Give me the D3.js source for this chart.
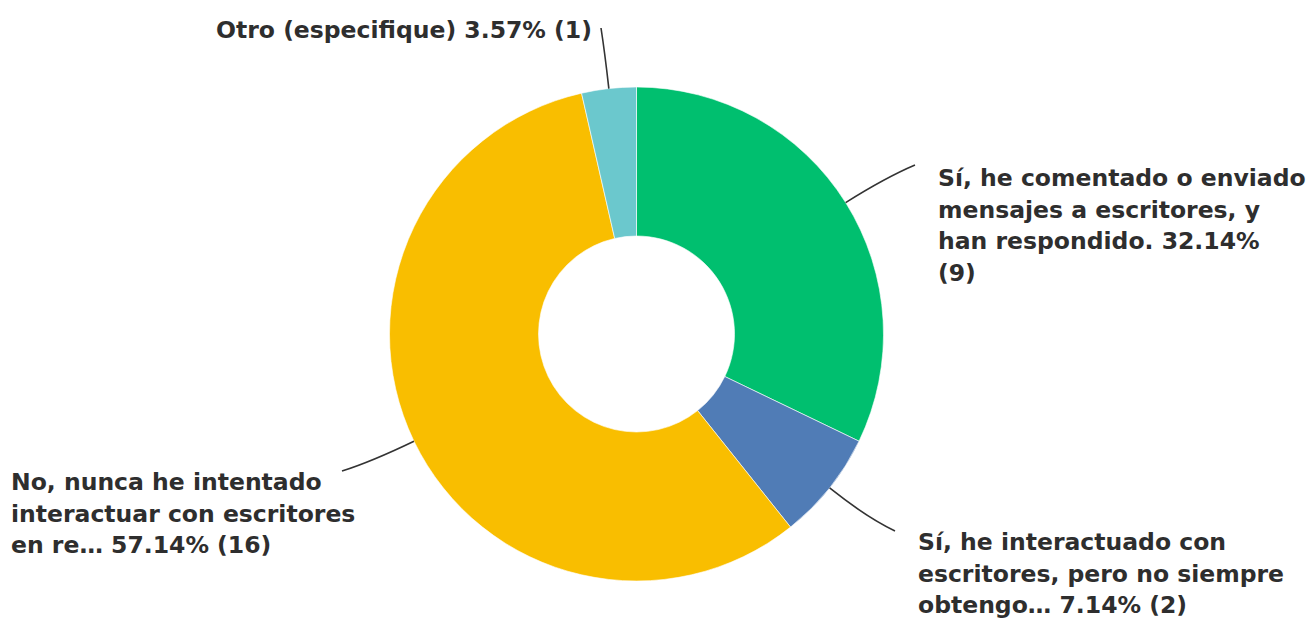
<!DOCTYPE html>
<html>
<head>
<meta charset="utf-8">
<script src="https://cdn.jsdelivr.net/npm/d3@7"></script>
<style>
  html, body { margin: 0; padding: 0; background: #ffffff; }
  svg { display: block; }
  text { font-family: "DejaVu Sans", sans-serif; font-weight: bold; fill: #2e2e2e; }
</style>
</head>
<body>
<svg id="chart" width="1315" height="628"></svg>
<script>
// ---- data ----
const categories = [
  "Sí, he comentado o enviado mensajes a escritores, y han respondido.",
  "Sí, he interactuado con escritores, pero no siempre obtengo…",
  "No, nunca he intentado interactuar con escritores en re…",
  "Otro (especifique)"
];
const percents = [32.14, 7.14, 57.14, 3.57];
const counts = [9, 2, 16, 1];
const labelLines = [
  ["Sí, he comentado o enviado", "mensajes a escritores, y", "han respondido. 32.14%", "(9)"],
  ["Sí, he interactuado con", "escritores, pero no siempre", "obtengo… 7.14% (2)"],
  ["No, nunca he intentado", "interactuar con escritores", "en re… 57.14% (16)"],
  ["Otro (especifique) 3.57% (1)"]
];
const colors = ["#00BF6F", "#507CB6", "#F9BE00", "#6BC8CD"];

// ---- layout ----
const W = 1315, H = 628;
const cx = 636.5, cy = 334;
const outerR = 247, innerR = 98;
const lineH = 31.5;
// label placement: text x, first baseline, leader end point
const labelPos = [
  { x: 938, y: 186, ex: 915, ey: 165 },
  { x: 918, y: 550, ex: 895, ey: 531 },
  { x: 11,  y: 490, ex: 342, ey: 471 },
  { x: 216, y: 38,  ex: 601, ey: 28 }
];

const svg = d3.select("#chart");
const g = svg.append("g").attr("transform", `translate(${cx},${cy})`);

const data = categories.map((c, i) => ({ cat: c, pct: percents[i], n: counts[i], i }));

const pie = d3.pie().value(d => d.pct).sort(null);
const arcs = pie(data);
const arc = d3.arc().innerRadius(innerR).outerRadius(outerR);

g.selectAll("path.slice")
  .data(arcs)
  .enter().append("path")
  .attr("class", "slice")
  .attr("d", arc)
  .attr("fill", d => colors[d.data.i])
  .attr("stroke", "#ffffff")
  .attr("stroke-width", 0.6);

// leader lines
arcs.forEach(a => {
  const mid = (a.startAngle + a.endAngle) / 2;
  const ux = Math.sin(mid), uy = -Math.cos(mid);
  const sx = cx + outerR * ux, sy = cy + outerR * uy;
  const lp = labelPos[a.data.i];
  const dist = Math.hypot(lp.ex - sx, lp.ey - sy);
  const qx = sx + ux * dist * 0.6, qy = sy + uy * dist * 0.6;
  const p = d3.path();
  p.moveTo(sx, sy);
  p.quadraticCurveTo(qx, qy, lp.ex, lp.ey);
  svg.append("path")
    .attr("d", p.toString())
    .attr("fill", "none")
    .attr("stroke", "#333333")
    .attr("stroke-width", 1.6);
});

// labels
data.forEach(d => {
  const lp = labelPos[d.i];
  const t = svg.append("text")
    .attr("x", lp.x)
    .attr("y", lp.y)
    .attr("font-size", 23.5);
  labelLines[d.i].forEach((ln, k) => {
    t.append("tspan").attr("x", lp.x).attr("y", lp.y + k * lineH).text(ln);
  });
});
</script>
</body>
</html>
